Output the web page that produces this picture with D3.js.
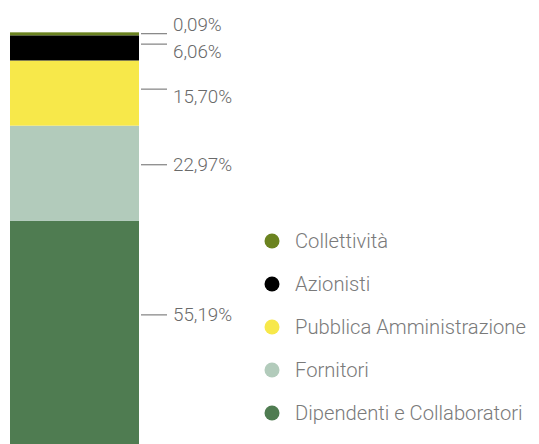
<!DOCTYPE html>
<html>
<head>
<meta charset="utf-8">
<script src="https://cdn.jsdelivr.net/npm/d3@7"></script>
<style>
html,body{margin:0;padding:0;background:#fff;overflow:hidden}
svg{display:block;font-family:Roboto,"Noto Sans",sans-serif}
</style>
</head>
<body>
<svg id="chart" width="539" height="444"></svg>
<script>
// Data (stack order bottom -> top)
const categories = ["Dipendenti e Collaboratori","Fornitori","Pubblica Amministrazione","Azionisti","Collettività"];
const values = [55.19, 22.97, 15.70, 6.06, 0.09];
const valueLabels = ["55,19%","22,97%","15,70%","6,06%","0,09%"];
const colors = ["#4f7c51","#b2cbbb","#f7e84a","#000000","#6b8320"];
// Legend order (top -> bottom)
const legendOrder = ["Collettività","Azionisti","Pubblica Amministrazione","Fornitori","Dipendenti e Collaboratori"];

const svg = d3.select("#chart");
const y = d3.scaleLinear().domain([0,100]).range([450,35]);
const x = d3.scaleBand().domain(["total"]).range([10,139]).padding(0);

let cum = 0;
const segs = values.map((v,i)=>{ const s={cat:categories[i],v,y0:cum,y1:cum+v,color:colors[i],label:valueLabels[i]}; cum+=v; return s; });

const minH = 3;
svg.selectAll("rect.seg").data(segs).enter().append("rect")
  .attr("class","seg")
  .attr("x", x("total"))
  .attr("width", x.bandwidth())
  .attr("y", d => Math.min(y(d.y1), y(d.y0)-minH))
  .attr("height", d => Math.max(minH, y(d.y0)-y(d.y1)))
  .attr("fill", d=>d.color);

// label layout: line position as fraction of segment from top, and text offset
const lineFrac = [0.41, 0.41, 0.44, 0.35, 0.5];
const textDy = [0, 0, 7.5, 7.5, -9];
segs.forEach((d,i)=>{
  const top = Math.min(y(d.y1), y(d.y0)-minH), bot = y(d.y0);
  const ly = i===4 ? top+1.3 : top + (bot-top)*lineFrac[i];
  svg.append("line").attr("x1",141).attr("x2",167).attr("y1",ly).attr("y2",ly)
    .attr("stroke","#8a8a8a").attr("stroke-width",1.3);
  svg.append("text").attr("x",173).attr("y",ly+textDy[i]).attr("dy","0.35em")
    .attr("font-size",18.8).attr("font-weight",300).attr("fill","#6a6a6a").text(d.label);
});

const colorOf = c => colors[categories.indexOf(c)];
const lg = svg.append("g");
legendOrder.forEach((c,i)=>{
  const cy = 241 + i*43;
  lg.append("circle").attr("cx",272).attr("cy",cy).attr("r",7.5).attr("fill",colorOf(c));
  lg.append("text").attr("x",295).attr("y",cy).attr("dy","0.35em")
    .attr("font-size",20.2).attr("font-weight",300).attr("fill","#7a7a7a").text(c);
});
</script>
</body>
</html>
